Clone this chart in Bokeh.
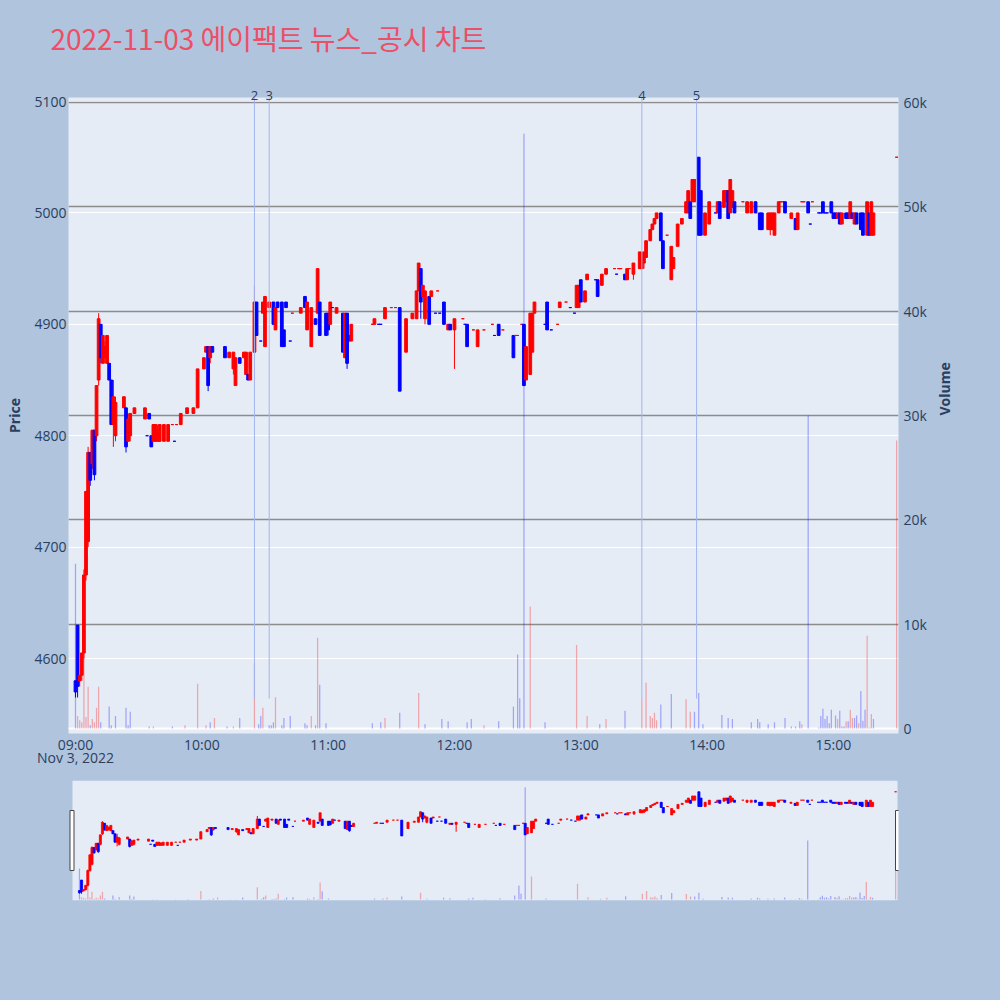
import math
from bokeh.plotting import figure
from bokeh.models import (Range1d, LinearAxis, FixedTicker, Grid,
                          ColumnDataSource, Span)
from bokeh.layouts import column
from bokeh.embed import file_html
from bokeh.resources import INLINE

TITLE = "2022-11-03 에이팩트 뉴스_공시 차트"

# ---------------- data ----------------
candle_time = [
    "09:00", "09:01", "09:02", "09:03", "09:04", "09:05", "09:06", "09:07", "09:08", "09:09", "09:10", "09:11", "09:12",
    "09:13", "09:14", "09:15", "09:16", "09:17", "09:18", "09:19", "09:23", "09:24", "09:25", "09:26", "09:28",
    "09:33", "09:34", "09:35", "09:36", "09:37", "09:38", "09:39", "09:40", "09:42", "09:44", "09:46", "09:47", "09:48",
    "09:50", "09:53", "09:56", "09:58", "10:01", "10:02", "10:03", "10:04", "10:05", "10:11", "10:13", "10:15", "10:16", "10:18",
    "10:20", "10:21", "10:22", "10:23", "10:25", "10:26", "10:28", "10:29", "10:30", "10:32", "10:34", "10:35", "10:36", "10:38", "10:39", "10:40",
    "10:42", "10:43", "10:47", "10:49", "10:50", "10:52", "10:54", "10:55", "10:56", "10:59", "11:00", "11:01", "11:02", "11:04",
    "11:07", "11:08", "11:09", "11:10", "11:11", "11:21", "11:22", "11:24", "11:25", "11:27", "11:30", "11:32", "11:34", "11:37",
    "11:40", "11:42", "11:43", "11:44", "11:45", "11:46", "11:48", "11:49", "11:51", "11:52", "11:53", "11:55", "11:57", "11:58", "12:00",
    "12:04", "12:05", "12:06", "12:09", "12:11", "12:14", "12:18", "12:19", "12:21", "12:23", "12:28", "12:29", "12:30", "12:32",
    "12:33", "12:34", "12:36", "12:37", "12:38", "12:43", "12:44", "12:46", "12:49", "12:50", "12:53", "12:55", "12:57",
    "12:58", "12:59", "13:00", "13:02", "13:03", "13:07", "13:08", "13:10", "13:12", "13:16", "13:17", "13:18", "13:19",
    "13:21", "13:22", "13:23", "13:25", "13:28", "13:29", "13:30", "13:31", "13:33", "13:34", "13:35", "13:36", "13:38", "13:39",
    "13:41", "13:43", "13:44", "13:46", "13:48", "13:50", "13:51", "13:52", "13:53", "13:54", "13:56", "13:57", "13:59", "14:01",
    "14:04", "14:05", "14:06", "14:08", "14:09", "14:10", "14:11", "14:12", "14:13", "14:17", "14:19", "14:21", "14:23", "14:25", "14:26",
    "14:29", "14:30", "14:31", "14:32", "14:34", "14:35", "14:36", "14:37", "14:40", "14:42", "14:43", "14:45", "14:46", "14:48", "14:49", "14:50",
    "14:53", "14:54", "14:55", "14:56", "14:57", "14:59", "15:00", "15:01", "15:02", "15:03", "15:04", "15:06", "15:07", "15:08",
    "15:09", "15:10", "15:11", "15:13", "15:14", "15:16", "15:17", "15:18", "15:19", "15:30",
]
candle_open = [
    4580, 4630, 4580, 4585, 4605, 4675, 4705, 4785, 4775, 4805, 4800, 4850, 4900,
    4865, 4870, 4865, 4865, 4850, 4810, 4800, 4825, 4825, 4795, 4800, 4820,
    4815, 4800, 4820, 4800, 4795, 4795, 4795, 4795, 4795, 4795, 4810, 4795, 4810,
    4810, 4820, 4820, 4825, 4860, 4875, 4880, 4870, 4880, 4880, 4870, 4860, 4845, 4870,
    4870, 4855, 4855, 4850, 4875, 4920, 4885, 4910, 4880, 4915, 4920, 4895, 4920, 4920, 4895, 4920,
    4885, 4910, 4910, 4925, 4895, 4880, 4905, 4910, 4920, 4910, 4910, 4900, 4915, 4910,
    4910, 4870, 4910, 4890, 4885, 4900, 4900, 4900, 4900, 4905, 4915, 4915, 4915, 4875,
    4905, 4905, 4930, 4950, 4925, 4905, 4925, 4925, 4910, 4930, 4910, 4920, 4895, 4900, 4895,
    4905, 4900, 4900, 4895, 4880, 4895, 4900, 4890, 4900, 4895, 4890, 4890, 4890, 4900,
    4900, 4850, 4855, 4875, 4910, 4900, 4920, 4895, 4900, 4915, 4920, 4915, 4910,
    4915, 4915, 4940, 4920, 4940, 4940, 4940, 4935, 4945, 4950, 4945, 4950, 4950,
    4945, 4940, 4950, 4945, 4950, 4950, 4955, 4960, 4975, 4985, 4990, 4995, 5000, 4975,
    4980, 4940, 4950, 4970, 4990, 5000, 5000, 5010, 5010, 5010, 5050, 5020, 4980, 4990,
    5000, 5000, 5010, 5005, 5010, 5020, 5000, 5005, 5010, 5010, 5000, 5000, 5010, 5000, 5000,
    4985, 4985, 4985, 4980, 5000, 5010, 5010, 5010, 4995, 4995, 4985, 5010, 5010, 5010, 4990, 5010,
    5000, 5000, 5010, 5000, 5000, 5010, 5000, 5000, 4995, 5000, 4990, 5000, 5000, 4995,
    5000, 4990, 5000, 5000, 5000, 4980, 5000, 4980, 4980, 5050,
]
candle_high = [
    4580, 4630, 4585, 4605, 4680, 4750, 4790, 4785, 4805, 4805, 4845, 4910, 4900,
    4890, 4885, 4890, 4865, 4850, 4850, 4835, 4835, 4825, 4820, 4820, 4825,
    4825, 4800, 4820, 4800, 4810, 4810, 4810, 4810, 4810, 4810, 4810, 4795, 4810,
    4820, 4825, 4825, 4860, 4870, 4880, 4880, 4880, 4880, 4880, 4875, 4875, 4870, 4870,
    4875, 4875, 4855, 4875, 4935, 4920, 4885, 4920, 4925, 4920, 4920, 4915, 4920, 4920, 4895, 4920,
    4885, 4910, 4915, 4925, 4920, 4915, 4905, 4950, 4920, 4910, 4910, 4920, 4915, 4915,
    4910, 4910, 4910, 4890, 4900, 4900, 4905, 4900, 4900, 4915, 4915, 4915, 4915, 4905,
    4910, 4930, 4955, 4950, 4935, 4930, 4925, 4930, 4910, 4930, 4910, 4920, 4900, 4900, 4905,
    4905, 4900, 4900, 4895, 4895, 4895, 4900, 4890, 4900, 4895, 4890, 4890, 4890, 4900,
    4900, 4880, 4910, 4910, 4920, 4900, 4920, 4895, 4900, 4920, 4920, 4915, 4910,
    4935, 4935, 4940, 4930, 4945, 4940, 4940, 4945, 4950, 4950, 4945, 4950, 4950,
    4945, 4950, 4950, 4955, 4965, 4965, 4965, 4975, 4985, 4990, 4995, 5000, 5000, 4975,
    4980, 4970, 4960, 4990, 4995, 5010, 5020, 5010, 5030, 5030, 5050, 5020, 5000, 5010,
    5000, 5010, 5010, 5020, 5020, 5020, 5030, 5020, 5010, 5010, 5010, 5010, 5010, 5000, 5000,
    5000, 5000, 5000, 5000, 5010, 5010, 5010, 5010, 5000, 4995, 5000, 5010, 5010, 5010, 4990, 5010,
    5000, 5000, 5010, 5000, 5000, 5010, 5000, 5000, 5000, 5000, 5000, 5000, 5000, 5010,
    5000, 5000, 5000, 5000, 5000, 5010, 5000, 5010, 5000, 5050,
]
candle_low = [
    4565, 4565, 4575, 4580, 4600, 4670, 4700, 4755, 4770, 4760, 4795, 4845, 4865,
    4865, 4865, 4865, 4850, 4810, 4790, 4795, 4825, 4785, 4795, 4795, 4820,
    4815, 4800, 4815, 4790, 4795, 4795, 4795, 4795, 4795, 4795, 4810, 4795, 4810,
    4810, 4820, 4820, 4825, 4860, 4875, 4840, 4865, 4875, 4870, 4870, 4855, 4845, 4865,
    4870, 4855, 4850, 4850, 4875, 4890, 4885, 4910, 4880, 4915, 4900, 4895, 4915, 4880, 4880, 4915,
    4885, 4910, 4910, 4915, 4895, 4880, 4900, 4910, 4890, 4890, 4890, 4900, 4915, 4910,
    4875, 4870, 4860, 4885, 4885, 4900, 4900, 4900, 4900, 4905, 4915, 4915, 4840, 4875,
    4905, 4905, 4930, 4905, 4925, 4900, 4900, 4925, 4910, 4930, 4910, 4900, 4895, 4895, 4860,
    4905, 4900, 4880, 4895, 4880, 4895, 4900, 4890, 4890, 4895, 4870, 4890, 4890, 4900,
    4845, 4850, 4855, 4875, 4910, 4900, 4895, 4895, 4900, 4915, 4920, 4915, 4910,
    4915, 4915, 4920, 4920, 4940, 4940, 4925, 4935, 4945, 4950, 4945, 4950, 4950,
    4940, 4940, 4950, 4940, 4950, 4950, 4950, 4960, 4975, 4985, 4990, 4995, 4975, 4950,
    4980, 4940, 4950, 4970, 4990, 5000, 5000, 4995, 5010, 5010, 4980, 4980, 4980, 4990,
    5000, 5000, 4995, 5005, 5010, 4995, 5000, 5005, 5000, 5010, 5000, 5000, 5000, 4985, 4985,
    4985, 4980, 4985, 4980, 5000, 5010, 5010, 5000, 4995, 4985, 4985, 5010, 5010, 5000, 4990, 5010,
    5000, 5000, 5000, 5000, 5000, 5000, 4995, 4995, 4995, 4990, 4990, 4995, 4995, 4995,
    4995, 4990, 4990, 4985, 4980, 4980, 4980, 4980, 4980, 5050,
]
candle_close = [
    4570, 4575, 4585, 4605, 4675, 4750, 4785, 4760, 4805, 4765, 4845, 4905, 4870,
    4890, 4880, 4890, 4850, 4810, 4835, 4830, 4835, 4790, 4815, 4820, 4825,
    4825, 4800, 4815, 4790, 4810, 4810, 4805, 4810, 4810, 4810, 4810, 4795, 4810,
    4820, 4825, 4825, 4860, 4870, 4880, 4845, 4880, 4875, 4870, 4875, 4875, 4870, 4865,
    4875, 4875, 4850, 4875, 4920, 4890, 4885, 4920, 4925, 4920, 4900, 4915, 4915, 4880, 4880, 4915,
    4885, 4910, 4915, 4915, 4920, 4915, 4900, 4950, 4890, 4890, 4895, 4920, 4915, 4915,
    4875, 4910, 4865, 4885, 4900, 4900, 4905, 4900, 4900, 4915, 4915, 4915, 4840, 4905,
    4910, 4930, 4955, 4920, 4935, 4930, 4900, 4930, 4910, 4930, 4910, 4900, 4900, 4895, 4905,
    4905, 4900, 4880, 4895, 4895, 4895, 4900, 4890, 4890, 4895, 4870, 4890, 4890, 4900,
    4845, 4880, 4910, 4910, 4920, 4900, 4895, 4895, 4900, 4920, 4920, 4915, 4910,
    4935, 4935, 4920, 4930, 4945, 4940, 4925, 4945, 4950, 4950, 4945, 4950, 4950,
    4940, 4950, 4950, 4955, 4965, 4960, 4965, 4975, 4985, 4990, 4995, 5000, 4975, 4950,
    4980, 4970, 4960, 4990, 4995, 5010, 5020, 4995, 5030, 5030, 4980, 4980, 5000, 5010,
    5000, 5010, 4995, 5020, 5020, 4995, 5030, 5020, 5000, 5010, 5010, 5010, 5000, 4985, 4985,
    5000, 5000, 5000, 5000, 5010, 5010, 5010, 5000, 5000, 4985, 5000, 5010, 5010, 5000, 4990, 5010,
    5000, 5000, 5000, 5000, 5000, 5000, 4995, 4995, 5000, 4990, 5000, 4995, 4995, 5010,
    4995, 5000, 4990, 4985, 4980, 5010, 4980, 5010, 5000, 5050,
]

vol_time = [
    "09:00", "09:01", "09:02", "09:03", "09:04", "09:05", "09:06", "09:07", "09:08", "09:09", "09:10", "09:11", "09:12",
    "09:16", "09:17", "09:19", "09:24", "09:25", "09:26", "09:35", "09:37", "09:46", "09:52", "09:58",
    "10:02", "10:04", "10:06", "10:12", "10:15", "10:18", "10:25", "10:27", "10:28", "10:29", "10:32", "10:33", "10:34",
    "10:35", "10:38", "10:39", "10:42", "10:49", "10:50", "10:52", "10:54", "10:55", "10:56", "10:59",
    "11:21", "11:25", "11:27", "11:34", "11:43", "11:46", "11:54", "11:57",
    "12:06", "12:08", "12:14", "12:21", "12:28", "12:30", "12:31", "12:33", "12:36", "12:43", "12:58",
    "13:03", "13:09", "13:12", "13:21", "13:29", "13:31", "13:33", "13:34", "13:35", "13:36", "13:38", "13:43",
    "13:50", "13:52", "13:54", "13:56", "13:58", "14:07", "14:10", "14:12", "14:21", "14:24", "14:25", "14:29",
    "14:32", "14:37", "14:40", "14:42", "14:44", "14:45", "14:48", "14:53", "14:54", "14:55", "14:56", "14:57",
    "14:58", "14:59", "15:01", "15:02", "15:03", "15:04", "15:05", "15:06", "15:07", "15:08", "15:09", "15:10",
    "15:11", "15:12", "15:13", "15:14", "15:15", "15:16", "15:17", "15:18", "15:19", "15:30",
]
vol_value = [
    15800, 1200, 800, 600, 7700, 1100, 4000, 300, 900, 600, 2000, 4000, 600,
    2100, 300, 1200, 2000, 300, 1600, 200, 200, 200, 300, 4300,
    300, 600, 1000, 200, 200, 1000, 6300, 400, 1200, 2000, 300, 300, 600,
    3000, 300, 1000, 1200, 500, 300, 1200, 300, 8700, 4200, 500,
    500, 600, 1000, 1500, 3400, 400, 900, 700,
    600, 900, 300, 700, 2100, 7100, 2900, 57000, 11700, 600, 8000,
    1200, 400, 900, 1700, 2900, 4400, 1200, 1000, 1500, 800, 2300, 3300,
    2800, 1600, 1600, 3400, 400, 1300, 1000, 900, 600, 900, 600, 400,
    600, 1000, 200, 200, 700, 400, 30000, 100, 1200, 1900, 900, 1200,
    500, 1800, 1250, 900, 1700, 200, 200, 700, 700, 1800, 1000, 1000,
    1250, 500, 3600, 750, 1800, 8900, 100, 1400, 900, 27600,
]
vol_dir = [
    "d", "u", "u", "u", "u", "u", "u", "d", "u", "u", "u", "u", "d",
    "d", "d", "d", "d", "d", "d", "d", "u", "d", "u", "u",
    "u", "d", "u", "d", "u", "d", "u", "d", "d", "u", "d", "d", "d",
    "u", "d", "d", "d", "d", "d", "u", "d", "u", "d", "d",
    "d", "d", "u", "d", "u", "d", "d", "d",
    "d", "d", "u", "d", "d", "d", "d", "d", "u", "d", "u",
    "u", "d", "u", "d", "u", "u", "u", "u", "u", "u", "d", "d",
    "u", "u", "d", "d", "d", "d", "d", "d", "d", "d", "d", "d",
    "d", "d", "d", "d", "d", "u", "d", "d", "d", "d", "d", "d",
    "d", "d", "d", "u", "d", "d", "d", "u", "d", "u", "u", "d",
    "d", "u", "d", "d", "d", "u", "d", "u", "d", "u",
]

news_time = ["10:25", "10:32", "13:29", "13:55"]
news_label = ["2", "3", "4", "5"]

hour_tick_labels = ["09:00", "10:00", "11:00", "12:00", "13:00", "14:00", "15:00"]
price_ticks = [4600, 4700, 4800, 4900, 5000, 5100]
volume_ticks = [0, 10000, 20000, 30000, 40000, 50000, 60000]
volume_tick_labels = ["0", "10k", "20k", "30k", "40k", "50k", "60k"]
date_label = "Nov 3, 2022"

# ---------------- styling / layout constants ----------------
PAGE_BG = "#B0C4DE"
PLOT_BG = "#E5ECF6"
UP = "#FF0000"
DOWN = "#0000FF"
FONT_COLOR = "#2a3f5f"
TITLE_COLOR = "#EC4F66"
NEWS_COLOR = "#A3B5F0"

X0, X1 = -3.32, 390.9
P0, P1 = 4532.7, 5103.6
V0, V1 = -479, 60479
NEWS_BOTTOM = 4564


def to_min(s):
    h, m = s.split(":")
    return (int(h) - 9) * 60 + int(m)


# candle direction (plotly rule: equal open/close -> compare with previous close)
colors = []
prev_c = None
prev_d = 1
for o, c in zip(candle_open, candle_close):
    if c > o:
        d = 1
    elif c < o:
        d = -1
    elif prev_c is not None and c > prev_c:
        d = 1
    elif prev_c is not None and c < prev_c:
        d = -1
    else:
        d = prev_d
    colors.append(UP if d > 0 else DOWN)
    prev_c, prev_d = c, d

csrc = ColumnDataSource(dict(
    x=[to_min(t) for t in candle_time],
    top=[max(o, c) for o, c in zip(candle_open, candle_close)],
    bottom=[min(o, c) for o, c in zip(candle_open, candle_close)],
    high=candle_high, low=candle_low, color=colors,
))
vsrc = ColumnDataSource(dict(
    x=[to_min(t) for t in vol_time], v=vol_value,
    color=[UP if d == "u" else DOWN for d in vol_dir],
))
news_x = [to_min(t) for t in news_time]


def draw_series(fig, body_w=1.3, lw=1.0):
    fig.vbar(x="x", width=0.6, top="v", bottom=0, fill_color="color",
             fill_alpha=0.3, line_color=None, y_range_name="vol", source=vsrc)
    fig.segment(x0="x", y0="low", x1="x", y1="high", line_color="color",
                line_width=1, source=csrc)
    fig.vbar(x="x", width=body_w, top="top", bottom="bottom", fill_color="color",
             line_color="color", line_width=lw, source=csrc)


def plain_axis(ax, size="14px"):
    ax.axis_line_color = None
    ax.major_tick_line_color = None
    ax.minor_tick_line_color = None
    ax.major_tick_out = 0
    ax.major_tick_in = 0
    ax.minor_tick_out = 0
    ax.minor_tick_in = 0
    ax.major_label_text_font = "Open Sans"
    ax.major_label_text_font_size = size
    ax.major_label_text_color = FONT_COLOR
    ax.axis_label_text_font = "Open Sans"
    ax.axis_label_text_font_size = "14px"
    ax.axis_label_text_font_style = "bold"
    ax.axis_label_text_color = FONT_COLOR


# ---------------- title strip ----------------
t = figure(width=1000, height=80, output_backend="svg", toolbar_location=None,
           x_axis_location=None, y_axis_location=None, title=TITLE,
           min_border_left=68, min_border_right=102, min_border_top=60,
           min_border_bottom=0)
t.background_fill_color = PAGE_BG
t.border_fill_color = PAGE_BG
t.outline_line_color = None
t.grid.visible = False
t.title.text_font = "Noto Sans CJK KR"
t.title.text_font_size = "28px"
t.title.text_font_style = "normal"
t.title.text_color = TITLE_COLOR
t.title.align = "left"
t.title.vertical_align = "bottom"
t.title.offset = -18
t.title.standoff = 6

# ---------------- main figure ----------------
p = figure(width=1000, height=690, output_backend="svg", toolbar_location=None,
           x_range=Range1d(X0, X1), y_range=Range1d(P0, P1),
           min_border_left=68, min_border_right=102, min_border_top=17,
           min_border_bottom=37)
p.extra_y_ranges = {"vol": Range1d(V0, V1)}
p.background_fill_color = PLOT_BG
p.border_fill_color = PAGE_BG
p.outline_line_color = None

p.xgrid.visible = False
p.ygrid.grid_line_color = "white"
p.ygrid.grid_line_width = 1
p.ygrid.ticker = FixedTicker(ticks=price_ticks)
p.add_layout(Grid(dimension=1, y_range_name="vol",
                  ticker=FixedTicker(ticks=volume_ticks[1:]),
                  grid_line_color="#8c8c8c", grid_line_width=1.3))
p.add_layout(Span(location=0, dimension="width", y_range_name="vol",
                  line_color="white", line_width=2, level="underlay"))

# axes
bottom_axis = p.below[0]
left_axis = p.left[0]
hour_vals = [to_min(h) for h in hour_tick_labels]
bottom_axis.ticker = FixedTicker(ticks=hour_vals)
bottom_axis.major_label_overrides = {v: h for v, h in zip(hour_vals, hour_tick_labels)}
date_axis = LinearAxis(ticker=FixedTicker(ticks=[hour_vals[0]]),
                       major_label_overrides={hour_vals[0]: date_label})
p.add_layout(date_axis, "below")
left_axis.ticker = FixedTicker(ticks=price_ticks)
left_axis.axis_label = "Price"
vol_axis = LinearAxis(y_range_name="vol", ticker=FixedTicker(ticks=volume_ticks),
                      major_label_overrides=dict(zip(volume_ticks, volume_tick_labels)),
                      axis_label="Volume")
p.add_layout(vol_axis, "right")
news_axis = LinearAxis(ticker=FixedTicker(ticks=news_x),
                       major_label_overrides=dict(zip(news_x, news_label)))
p.add_layout(news_axis, "above")
for ax in [bottom_axis, date_axis, left_axis, vol_axis]:
    plain_axis(ax)
plain_axis(news_axis, size="13px")
bottom_axis.major_label_standoff = 1
date_axis.major_label_standoff = -9
left_axis.major_label_standoff = 2
left_axis.axis_label_standoff = 7
vol_axis.major_label_standoff = 5
vol_axis.axis_label_standoff = 15
news_axis.major_label_standoff = -2
try:
    if "axis_label_orientation" in vol_axis.properties():
        vol_axis.axis_label_orientation = math.pi / 2
except Exception:
    pass

draw_series(p)

p.segment(x0=news_x, y0=[P1] * len(news_x), x1=news_x, y1=[NEWS_BOTTOM] * len(news_x),
          line_color=NEWS_COLOR, line_width=1)

# ---------------- range-slider figure ----------------
pxm = 825.0 / (X1 - X0)
m0 = X0 - 4.0 / pxm
m1 = X1 + 1.0 / pxm
q = figure(width=1000, height=140, output_backend="svg", toolbar_location=None,
           x_range=Range1d(m0, m1), y_range=Range1d(P0, P1),
           x_axis_location=None, y_axis_location=None,
           min_border_left=68, min_border_right=102, min_border_top=10,
           min_border_bottom=10)
q.extra_y_ranges = {"vol": Range1d(V0, V1)}
q.background_fill_color = PAGE_BG
q.border_fill_color = PAGE_BG
q.outline_line_color = None
q.grid.visible = False
q.quad(left=[X0], right=[X1], bottom=[P0], top=[P1], fill_color=PLOT_BG, line_color=None)
draw_series(q, body_w=1.0, lw=0.8)
q.rect(x=[X0 - 0.5 / pxm, X1], y=[(P0 + P1) / 2] * 2, width=4, height=60,
       width_units="screen", height_units="screen",
       fill_color="white", line_color="#444444", line_width=1)

layout = column(t, p, q, spacing=0)
html = file_html(layout, INLINE, title="chart")
html = html.replace("</head>",
                    "<style>html,body{background:%s;margin:0;padding:0;}</style></head>" % PAGE_BG, 1)
open("out.html", "w").write(html)
